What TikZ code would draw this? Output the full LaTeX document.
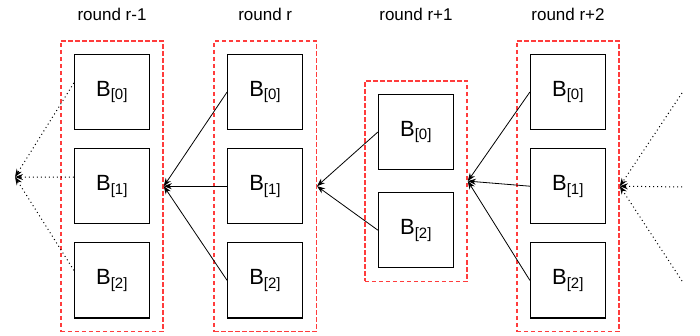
\documentclass[tikz,border=0pt]{standalone}
\usepackage{fontspec}
\setmainfont{Liberation Sans}
\usepackage{tikz}
\usetikzlibrary{arrows,arrows.meta,shapes,calc,fit}
\usetikzlibrary{positioning}
\definecolor{clrRound}{RGB}{255,60,60}
\tikzstyle{blockbox}=[draw, line width=1.2pt, minimum width=75pt, minimum height=75pt,
anchor=center, text centered, font=\fontsize{22}{24}\selectfont, inner sep=0pt]
\tikzstyle{roundbox}=[draw=clrRound, line width=1.4pt, dash pattern=on 4.5pt off 2.5pt, inner sep=13pt]
\tikzstyle{roundlabel}=[font=\fontsize{17}{19}\selectfont]
\tikzstyle{myarrow}=[->, >={Stealth[length=8pt,width=6pt]}, line width=0.8pt]
\tikzstyle{dotarrow}=[->, >={Stealth[length=8pt,width=6pt]}, line width=1pt, dash pattern=on 1pt off 3pt]
\newcommand{\blk}[1]{B\textsubscript{\fontsize{15}{16}\selectfont[#1]}}

\begin{document}
\begin{tikzpicture}[x=1pt, y=-1pt, node distance=18pt]
		\useasboundingbox (0,0) rectangle (700,336);

		% round r-1
		\node[blockbox] (A0) at (112,92) {\blk{0}} ;
		\node[blockbox, below=of A0] (A1) {\blk{1}} ;
		\node[blockbox, below=of A1] (A2) {\blk{2}} ;
		\node[roundbox, fit=(A0)(A2)] (RA) {} ;

		% round r
		\node[blockbox, right=77pt of A0] (B0) {\blk{0}} ;
		\node[blockbox, below=of B0] (B1) {\blk{1}} ;
		\node[blockbox, below=of B1] (B2) {\blk{2}} ;
		\node[roundbox, fit=(B0)(B2)] (RB) {} ;

		% round r+1
		\node[blockbox] (C0) at (416,132) {\blk{0}} ;
		\node[blockbox, below=22pt of C0] (C2) {\blk{2}} ;
		\node[roundbox, fit=(C0)(C2)] (RC) {} ;

		% round r+2
		\node[blockbox] (D0) at (568,92) {\blk{0}} ;
		\node[blockbox, below=of D0] (D1) {\blk{1}} ;
		\node[blockbox, below=of D1] (D2) {\blk{2}} ;
		\node[roundbox, fit=(D0)(D2)] (RD) {} ;

		\node[roundlabel] (LA) at (RA.north |- 0,14) {round r-1} ;
		\node[roundlabel] (LB) at (RB.north |- 0,14) {round r} ;
		\node[roundlabel] (LC) at (RC.north |- 0,14) {round r+1} ;
		\node[roundlabel] (LD) at (RD.north |- 0,14) {round r+2} ;

		\draw[myarrow] (B0.west) -- (RA.east) ;
		\draw[myarrow] (B1.west) -- (RA.east) ;
		\draw[myarrow] (B2.west) -- (RA.east) ;

		\draw[myarrow] (C0.west) -- (RB.east) ;
		\draw[myarrow] (C2.west) -- (RB.east) ;

		\draw[myarrow] (D0.west) -- (RC.east) ;
		\draw[myarrow] (D1.west) -- (RC.east) ;
		\draw[myarrow] (D2.west) -- (RC.east) ;

		% previous and next rounds
		\coordinate (prev) at (15,177) ;
		\draw[dotarrow] ([yshift=9pt]A0.west) -- (prev) ;
		\draw[dotarrow] ([yshift=9pt]A1.west) -- (prev) ;
		\draw[dotarrow] ([yshift=10pt]A2.west) -- (prev) ;

		\coordinate (nextA) at (682,93) ;
		\coordinate (nextB) at (682,187) ;
		\coordinate (nextC) at (682,281) ;
		\draw[dotarrow] (nextA) -- (RD.east) ;
		\draw[dotarrow] (nextB) -- (RD.east) ;
		\draw[dotarrow] (nextC) -- (RD.east) ;

	\end{tikzpicture}
\end{document}
